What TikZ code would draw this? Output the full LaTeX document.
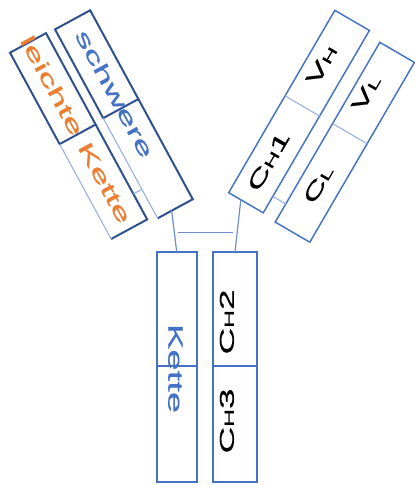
\documentclass[tikz,border=0pt]{standalone}
\usepackage{fontspec}
\setmainfont{Liberation Sans}
\newfontfamily\wide[FakeStretch=1.85,FakeBold=0.6]{Liberation Sans}
\definecolor{dkblue}{RGB}{47,82,143}
\definecolor{mdblue}{RGB}{68,114,196}
\definecolor{ltblue}{RGB}{150,175,222}
\definecolor{txtblue}{RGB}{68,114,196}
\definecolor{txtorange}{RGB}{237,125,49}
\definecolor{hingeblue}{RGB}{110,140,205}
\newcommand{\sublet}[1]{{\fontsize{10}{11}\selectfont #1}}
\tikzset{
  dkline/.style={draw=dkblue, line width=1.5pt},
  mdline/.style={draw=mdblue, line width=1.1pt},
  ltline/.style={draw=ltblue, line width=0.8pt},
  hingeline/.style={draw=hingeblue, line width=0.9pt},
  lbl/.style={inner sep=0pt, anchor=base, font=\wide\fontsize{15.5}{16}\selectfont},
  clbl/.style={inner sep=0pt, anchor=base, text=black, font=\wide\fontsize{15}{16}\selectfont},
}
\begin{document}
\begin{tikzpicture}[x=0.75pt,y=0.75pt]
\useasboundingbox (0,0) rectangle (414,-485);

% ---------- stem ----------
\draw[mdline] (157,-252) rectangle (197,-482);
\draw[mdline] (157,-366) -- (197,-366);
\draw[mdline] (213,-252) rectangle (257,-482);
\draw[mdline] (213,-366) -- (257,-366);
\coordinate (stemL) at (176.7,-252);
\coordinate (stemR) at (235,-252);
\node[lbl, text=txtblue, rotate=-90] (kette2) at (168.3,-368.5) {Kette};
\node[clbl, rotate=90] (ch2) at (233.8,-322) {C\sublet{H}2};
\node[clbl, rotate=90] (ch3) at (233.8,-421) {C\sublet{H}3};

% ---------- left arm ----------
\begin{scope}[shift={(10,-52.7)}, rotate=-61.5]
  % light chain
  \draw[dkline] (0,0) rectangle (104,41);
  \draw[dkline] (104,41) -- (212,41) -- (212,0);
  \draw[ltline] (104,0) -- (212,0);
  % heavy chain
  \draw[dkline] (1,50.7) rectangle (102,90.7);
  \draw[dkline] (102,90.7) -- (216,90.7) -- (216,50.7);
  \draw[ltline] (102,50.7) -- (216,50.7);
  \draw[ltline] (183,41) -- (183,50.7);
  \coordinate (hl) at (216,66.7);
  \node[lbl, text=txtblue, transform shape] (schwere) at (86,65) {schwere};
  \node[lbl, text=txtorange, transform shape] (leichte) at (99,14) {leichte Kette};
\end{scope}

% ---------- right arm ----------
\begin{scope}[shift={(228.7,-192.7)}, rotate=59.8]
  \draw[mdline] (0,0) rectangle (211,-40);
  \draw[ltline] (112,0) -- (112,-40);
  \draw[mdline] (-2,-55) rectangle (206,-95);
  \draw[ltline] (112,-55) -- (112,-95);
  \draw[ltline] (19,-40) -- (19,-55);
  \coordinate (hr) at (0,-14);
  \node[clbl, transform shape] (ch1) at (47,-25.5) {C\sublet{H}1};
  \node[clbl, transform shape] (vh) at (157,-23) {V\sublet{H}};
  \node[clbl, transform shape] (cl) at (52,-80) {C\sublet{L}};
  \node[clbl, transform shape] (vl) at (155,-75.5) {V\sublet{L}};
\end{scope}

% ---------- hinge ----------
\draw[hingeline] (hl) -- (stemL);
\draw[hingeline] (hr) -- (stemR);
\coordinate (hb1) at (178.3,-232.3);
\coordinate (hb2) at (233.3,-232.3);
\draw[hingeline] (hb1) -- (hb2);
\end{tikzpicture}
\end{document}
